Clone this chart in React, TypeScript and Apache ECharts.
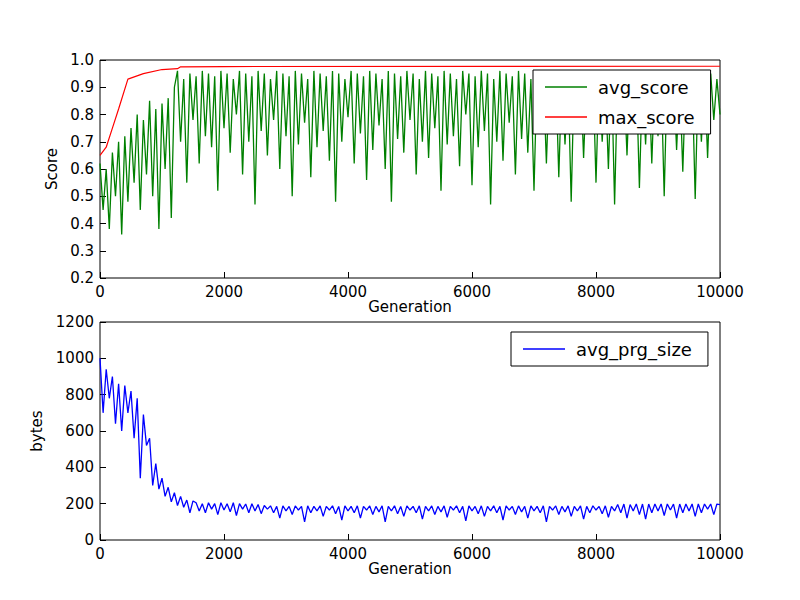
import { useEffect, useRef } from "react"
import * as echarts from "echarts"

const STEP = 50
const avgScore = [
  0.62,0.45,0.6,0.38,0.66,0.5,0.7,0.36,0.72,0.48,0.75,0.55,0.8,0.45,0.78,0.58,0.85,0.5,0.82,0.38,0.84,0.6,0.86,0.42,0.9,
  0.96,0.7,0.93,0.55,0.95,0.78,0.94,0.62,
  0.96,0.72,0.95,0.68,0.94,0.52,0.96,0.75,
  0.95,0.66,0.93,0.8,0.96,0.58,0.95,0.7,
  0.94,0.47,0.96,0.74,0.95,0.65,0.93,0.78,
  0.96,0.6,0.95,0.72,0.94,0.5,0.96,0.69,
  0.95,0.77,0.93,0.57,0.96,0.68,0.95,0.74,
  0.94,0.63,0.96,0.48,0.95,0.7,0.93,0.79,
  0.96,0.62,0.95,0.73,0.94,0.56,0.96,0.67,
  0.95,0.76,0.93,0.6,0.96,0.48,0.95,0.71,
  0.94,0.66,0.96,0.78,0.95,0.58,0.93,0.7,
  0.96,0.64,0.95,0.75,0.94,0.52,0.96,0.69,
  0.95,0.72,0.93,0.61,0.96,0.8,0.95,0.54,
  0.94,0.68,0.96,0.74,0.95,0.47,0.93,0.7,
  0.96,0.63,0.95,0.77,0.94,0.58,0.96,0.71,
  0.95,0.66,0.93,0.52,0.96,0.75,0.95,0.62,
  0.94,0.79,0.96,0.57,0.95,0.69,0.93,0.48,
  0.96,0.73,0.95,0.64,0.94,0.76,0.96,0.55,
  0.95,0.7,0.93,0.6,0.96,0.47,0.95,0.74,
  0.94,0.65,0.96,0.78,0.95,0.53,0.93,0.69,
  0.96,0.62,0.95,0.72,0.94,0.5,0.96,0.76,
  0.95,0.67,0.93,0.59,0.96,0.73,0.95,0.49,
  0.94,0.7,0.96,0.64,0.95,0.78,0.93,0.8,
]

const maxScore: [number, number][] = [
  [0, 0.65], [100, 0.68], [200, 0.75], [300, 0.82], [450, 0.93], [700, 0.95],
  [1000, 0.965], [1250, 0.968], [1300, 0.975], [2000, 0.976], [10000, 0.977],
]

const avgPrgSize = [
  1000,700,940,780,900,640,860,600,850,700,820,560,780,340,690,520,560,300,420,280,340,240,290,210,260,190,240,180,220,150,215,
  205,160,200,150,205,170,200,140,205,165,
  200,155,205,135,200,170,198,150,200,160,
  195,145,190,170,188,150,185,120,188,160,
  185,140,188,165,185,100,188,150,185,160,
  188,130,185,165,188,145,185,110,188,160,
  185,150,188,120,185,165,188,140,185,155,
  188,100,185,160,188,145,185,130,188,165,
  185,150,188,115,185,160,188,140,185,155,
  188,125,185,165,188,150,185,105,188,160,
  185,145,188,130,185,160,188,150,185,110,
  188,165,185,140,188,155,185,120,188,160,
  185,150,188,100,185,165,188,140,185,155,
  188,130,185,160,188,115,185,150,188,165,
  185,145,188,125,185,160,195,150,198,120,
  195,160,198,140,198,115,198,150,198,160,
  198,135,198,165,198,120,198,150,198,160,
  198,130,198,150,198,170,198,140,198,195,
]

const font = "DejaVu Sans"

export default function App() {
  const chartRef = useRef<HTMLDivElement>(null)

  useEffect(() => {
    if (!chartRef.current) return
    const chart = echarts.init(chartRef.current, null, { renderer: "svg" })

    const xAxisBase = {
      type: "value",
      min: 0,
      max: 10000,
      interval: 2000,
      name: "Generation",
      nameLocation: "middle",
      nameGap: 20,
      nameTextStyle: { fontSize: 15, color: "#000", fontFamily: font },
      axisLine: { show: false },
      axisTick: { inside: true, length: 6, lineStyle: { color: "#000" } },
      axisLabel: { fontSize: 15, color: "#000", fontFamily: font, margin: 6, formatter: (v: number) => String(v) },
      splitLine: { show: false },
    }
    const yAxisBase = {
      type: "value",
      nameLocation: "middle",
      nameTextStyle: { fontSize: 15, color: "#000", fontFamily: font },
      axisLine: { show: false },
      axisTick: { inside: true, length: 6, lineStyle: { color: "#000" } },
      axisLabel: { fontSize: 15, color: "#000", fontFamily: font, margin: 6, formatter: (v: number) => String(v) },
      splitLine: { show: false },
    }
    const legendBase = {
      orient: "vertical",
      backgroundColor: "#fff",
      borderColor: "#000",
      borderWidth: 1,
      borderRadius: 0,
      icon: "rect",
      itemWidth: 42,
      itemHeight: 1.5,
      itemGap: 12,
      padding: [8, 16, 8, 12],
      textStyle: { fontSize: 18, color: "#000", fontFamily: font, padding: [0, 0, 0, 6] },
    }

    chart.setOption({
      animation: false,
      grid: [
        { left: 100, right: 80, top: 60, height: 218, show: true, borderColor: "#000", borderWidth: 1 },
        { left: 100, right: 80, top: 322, height: 218, show: true, borderColor: "#000", borderWidth: 1 },
      ],
      xAxis: [
        { ...xAxisBase, gridIndex: 0 },
        { ...xAxisBase, gridIndex: 1 },
      ],
      yAxis: [
        { ...yAxisBase, gridIndex: 0, min: 0.2, max: 1.0, interval: 0.1, name: "Score", nameGap: 34,
          axisLabel: { ...yAxisBase.axisLabel, formatter: (v: number) => v.toFixed(1) } },
        { ...yAxisBase, gridIndex: 1, min: 0, max: 1200, interval: 200, name: "bytes", nameGap: 50 },
      ],
      legend: [
        { ...legendBase, left: 533, top: 70, data: ["avg_score", "max_score"] },
        { ...legendBase, left: 511, top: 332, data: ["avg_prg_size"] },
      ],
      series: [
        {
          name: "avg_score", type: "line", xAxisIndex: 0, yAxisIndex: 0, showSymbol: false,
          color: "#008000", lineStyle: { width: 1.3 },
          data: avgScore.map((v, i) => [i * STEP, v]),
        },
        {
          name: "max_score", type: "line", xAxisIndex: 0, yAxisIndex: 0, showSymbol: false,
          color: "#ff0000", lineStyle: { width: 1.2 },
          data: maxScore,
        },
        {
          name: "avg_prg_size", type: "line", xAxisIndex: 1, yAxisIndex: 1, showSymbol: false,
          color: "#0000ff", lineStyle: { width: 1.3 },
          data: avgPrgSize.map((v, i) => [i * STEP, v]),
        },
      ],
    })

    return () => chart.dispose()
  }, [])

  return <div ref={chartRef} style={{ width: 800, height: 600, margin: -8 }} />
}
